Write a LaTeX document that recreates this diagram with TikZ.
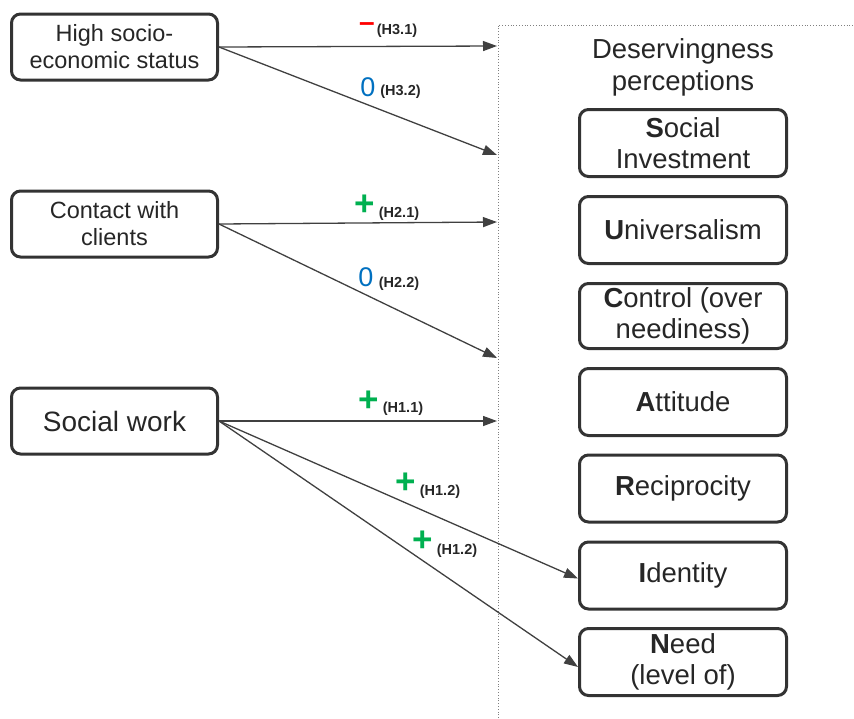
\documentclass[tikz,border=0pt]{standalone}
\usepackage{fontspec}
\setmainfont{Liberation Sans}
\usetikzlibrary{arrows.meta}
\definecolor{boxline}{HTML}{333333}
\definecolor{arrowgray}{HTML}{404040}
\definecolor{labelgray}{HTML}{262626}
\definecolor{posgreen}{HTML}{00B050}
\definecolor{zeroblue}{HTML}{0070C0}
\definecolor{negred}{HTML}{FF0000}
\begin{document}
\begin{tikzpicture}[x=1pt,y=-1pt,
  box/.style={draw=boxline, line width=3pt, rounded corners=9pt, align=center,
    inner sep=0pt, text=labelgray},
  leftbox/.style={box, minimum width=206pt, minimum height=66pt,
    font=\fontsize{23.5}{27}\selectfont},
  rightbox/.style={box, minimum width=207pt, minimum height=67pt,
    font=\fontsize{27.5}{31}\selectfont},
  conn/.style={draw=arrowgray, line width=1.3pt,
    -{Triangle[length=14pt,width=10pt]}},
  sign/.style={inner sep=0pt, font=\fontsize{35}{35}\selectfont\bfseries},
  zero/.style={inner sep=0pt, text=zeroblue, font=\fontsize{27}{27}\selectfont},
  hyp/.style={inner sep=0pt, text=labelgray, font=\fontsize{14.5}{14.5}\selectfont\bfseries},
  frame/.style={draw=gray, dotted, line width=0.8pt}]
\useasboundingbox (0,0) rectangle (854,718);

% dotted frame around the outcome block
\coordinate (fb) at (498,718);
\coordinate (fc) at (498,25);
\coordinate (fr) at (854,25);
\draw[frame] (fb) -- (fc) -- (fr);

% predictors
\node[leftbox] (ses) at (114.5,47) {High socio-\\economic status};
\node[leftbox] (contact) at (114.5,224) {Contact with\\clients};
\node[leftbox, font=\fontsize{28}{31}\selectfont] (sw) at (114.5,421) {Social work};

% outcomes
\node[inner sep=0pt, align=center, text=labelgray, font=\fontsize{27.5}{32}\selectfont]
  (title) at (683,67) {Deservingness\\perceptions};
\node[rightbox] (si) at (683,143) {\textbf{S}ocial\\Investment};
\node[rightbox] (un) at (683,230) {\textbf{U}niversalism};
\node[rightbox, minimum height=65pt] (co) at (683,316) {\textbf{C}ontrol (over\\neediness)};
\node[rightbox] (at) at (683,402) {\textbf{A}ttitude};
\node[rightbox] (re) at (683,488.5) {\textbf{R}eciprocity};
\node[rightbox] (id) at (683,575.5) {\textbf{I}dentity};
\node[rightbox] (ne) at (683,662) {\textbf{N}eed\\(level of)};

% arrow ends on the frame
\coordinate (e31) at (497,46);
\coordinate (e32) at (497,155);
\coordinate (e21) at (497,222);
\coordinate (e22) at (497,358);
\coordinate (e11) at (497,421);

% paths
\draw[conn] (ses.east) -- (e31);
\draw[conn] (ses.east) -- (e32);
\draw[conn] (contact.east) -- (e21);
\draw[conn] (contact.east) -- (e22);
\draw[conn] (sw.east) -- (e11);
\draw[conn] (sw.east) -- ([yshift=-3pt]id.west);
\draw[conn] (sw.east) -- ([yshift=-5pt]ne.west);

% hypothesis labels
\node[sign, font=\fontsize{28}{28}\selectfont\bfseries, text=negred, anchor=base]
  (s31) at (367,31.5) {–};
\node[hyp] (h31) at (397,31) {(H3.1)};
\node[zero] (s32) at (368,87.5) {0};
\node[hyp] (h32) at (400.5,92) {(H3.2)};
\node[sign, text=posgreen] (s21) at (364.5,205) {+};
\node[hyp] (h21) at (399,214) {(H2.1)};
\node[zero] (s22) at (366,277.5) {0};
\node[hyp] (h22) at (399,283.5) {(H2.2)};
\node[sign, text=posgreen] (s11) at (368.5,401.5) {+};
\node[hyp] (h11) at (403,408.5) {(H1.1)};
\node[sign, text=posgreen] (s12a) at (406,483.5) {+};
\node[hyp] (h12a) at (440,492) {(H1.2)};
\node[sign, text=posgreen] (s12b) at (422.5,541.5) {+};
\node[hyp] (h12b) at (457,551) {(H1.2)};
\end{tikzpicture}
\end{document}
